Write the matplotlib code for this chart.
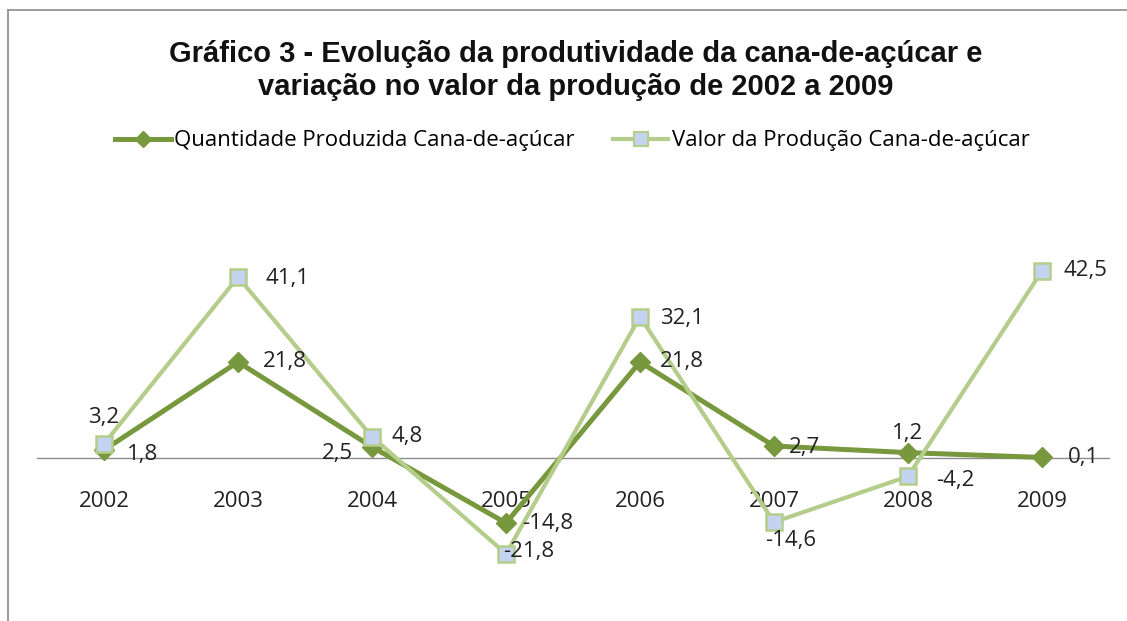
import matplotlib
matplotlib.use("Agg")
import matplotlib.pyplot as plt
from matplotlib.lines import Line2D

# data
years = ["2002", "2003", "2004", "2005", "2006", "2007", "2008", "2009"]
quantidade = [1.8, 21.8, 2.5, -14.8, 21.8, 2.7, 1.2, 0.1]
valor = [3.2, 41.1, 4.8, -21.8, 32.1, -14.6, -4.2, 42.5]
quant_labels = ["1,8", "21,8", "2,5", "-14,8", "21,8", "2,7", "1,2", "0,1"]
valor_labels = ["3,2", "41,1", "4,8", "-21,8", "32,1", "-14,6", "-4,2", "42,5"]

# label offsets (points) from each marker
quant_off = [(28, -3), (34, 0), (-25, -5), (30, 0), (30, 0), (22, -1), (0, 14), (30, 0)]
valor_off = [(0, 19), (36, -1), (25, 0), (16, 2), (30, -1), (12, -13), (34, -3), (31, 0)]

DARK = "#77983C"
LIGHT = "#B5CD8A"
SQFILL = "#C4D4F0"

fig = plt.figure(figsize=(11.27, 6.21), dpi=100)
ax = fig.add_axes([37 / 1127, 21 / 621, 1072 / 1127, 370 / 621])

x = list(range(len(years)))
ax.plot(x, quantidade, color=DARK, lw=3.6, marker="D", markersize=10,
        markerfacecolor=DARK, markeredgecolor=DARK, zorder=3)
ax.plot(x, valor, color=LIGHT, lw=3.0, marker="s", markersize=12,
        markerfacecolor=SQFILL, markeredgecolor=LIGHT, markeredgewidth=1.8, zorder=4)

lab_font = dict(fontsize=16, family="Open Sans", color="#222222")
for i in x:
    ax.annotate(quant_labels[i], (i, quantidade[i]), xytext=quant_off[i],
                textcoords="offset points", ha="center", va="center", zorder=5, **lab_font)
    ax.annotate(valor_labels[i], (i, valor[i]), xytext=valor_off[i],
                textcoords="offset points", ha="center", va="center", zorder=5, **lab_font)

ax.set_xlim(-0.5, 7.5)
ax.set_ylim(-32.3, 51.8)
for s in ["top", "right", "left"]:
    ax.spines[s].set_visible(False)
ax.spines["bottom"].set_position(("data", 0))
ax.spines["bottom"].set_color("#8c8c8c")
ax.spines["bottom"].set_linewidth(1.0)
ax.set_yticks([])
ax.set_xticks(x)
ax.set_xticklabels(years, fontsize=16, family="Open Sans", color="#222222")
ax.tick_params(axis="x", length=0, pad=24)
ax.set_facecolor("none")

fig.text(0.511, 0.887, "Gráfico 3 - Evolução da produtividade da cana-de-açúcar e\n"
         "variação no valor da produção de 2002 a 2009",
         ha="center", va="center", fontsize=21, fontweight="bold",
         family="Liberation Sans", linespacing=1.22, color="#111111")

handles = [
    Line2D([], [], color=DARK, lw=3.6, marker="D", markersize=8,
           markerfacecolor=DARK, markeredgecolor=DARK),
    Line2D([], [], color=LIGHT, lw=3.0, marker="s", markersize=10,
           markerfacecolor=SQFILL, markeredgecolor=LIGHT, markeredgewidth=1.5),
]
fig.legend(handles, ["Quantidade Produzida Cana-de-açúcar", "Valor da Produção Cana-de-açúcar"],
           loc="center", bbox_to_anchor=(0.508, 0.773), ncol=2, frameon=False,
           prop={"family": "Open Sans", "size": 16}, handlelength=2.5,
           handletextpad=0.15, columnspacing=1.7)

# outer chart frame (top and left edges visible)
fig.add_artist(Line2D([8 / 1127, 8 / 1127], [0, 1 - 10 / 621], color="#8c8c8c", lw=1.2))
fig.add_artist(Line2D([8 / 1127, 1], [1 - 10 / 621, 1 - 10 / 621], color="#8c8c8c", lw=1.2))

fig.savefig("out.png", dpi=100)
